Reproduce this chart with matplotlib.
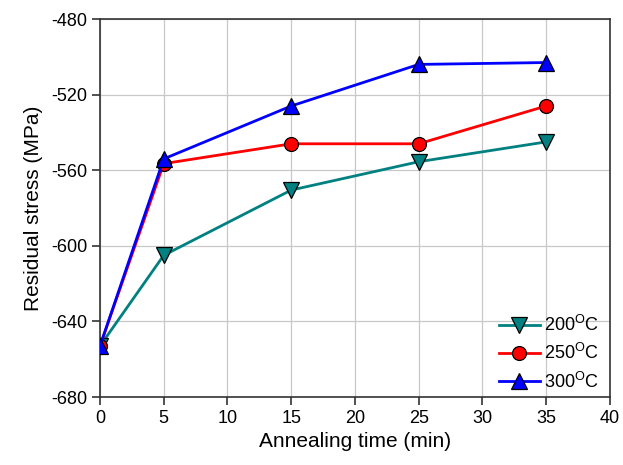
import matplotlib
matplotlib.use('Agg')
import matplotlib.pyplot as plt

plt.rcParams['font.family'] = ['Liberation Sans', 'DejaVu Sans']
plt.rcParams['mathtext.fontset'] = 'custom'
plt.rcParams['mathtext.rm'] = 'Liberation Sans'
plt.rcParams['axes.unicode_minus'] = False

# data
time_min = [0, 5, 15, 25, 35]
stress_200 = [-653, -605, -570.5, -555.5, -545]
stress_250 = [-653, -556.5, -546, -546, -526]
stress_300 = [-653, -554, -526, -504, -503]
labels = ['200$^{\\mathrm{O}}$C', '250$^{\\mathrm{O}}$C', '300$^{\\mathrm{O}}$C']

fig = plt.figure(figsize=(6.23, 4.65), dpi=100)
ax = fig.add_axes([0.1605, 0.1462, 0.8185, 0.8128])

ax.plot(time_min, stress_200, color='#008080', linewidth=2, marker='v',
        markersize=12, markerfacecolor='#008080', markeredgecolor='black',
        markeredgewidth=0.9, label=labels[0], zorder=3)
ax.plot(time_min, stress_250, color='#ff0000', linewidth=2, marker='o',
        markersize=10, markerfacecolor='#ff0000', markeredgecolor='black',
        markeredgewidth=0.9, label=labels[1], zorder=3)
ax.plot(time_min, stress_300, color='#0000ff', linewidth=2, marker='^',
        markersize=12, markerfacecolor='#0000ff', markeredgecolor='black',
        markeredgewidth=0.9, label=labels[2], zorder=3)

ax.set_xlim(0, 40)
ax.set_ylim(-680, -480)
ax.set_xticks(range(0, 41, 5))
ax.set_yticks(range(-680, -479, 40))
ax.grid(True, color='#c8c8c8', linewidth=0.9)
ax.set_axisbelow(True)
for sp in ax.spines.values():
    sp.set_color('#333333')
    sp.set_linewidth(1.2)
ax.tick_params(direction='out', length=6, width=1.2, color='#333333',
               labelsize=13, pad=3)

ax.set_xlabel('Annealing time (min)', fontsize=15, labelpad=4)
ax.set_ylabel('Residual stress (MPa)', fontsize=15, labelpad=6)

ax.legend(loc='lower right', bbox_to_anchor=(0.988, 0.0), frameon=False,
          fontsize=13, handlelength=2.3, handletextpad=0.2,
          labelspacing=0.45, borderaxespad=0.0, borderpad=0.3)

fig.savefig('out.png', dpi=100)
